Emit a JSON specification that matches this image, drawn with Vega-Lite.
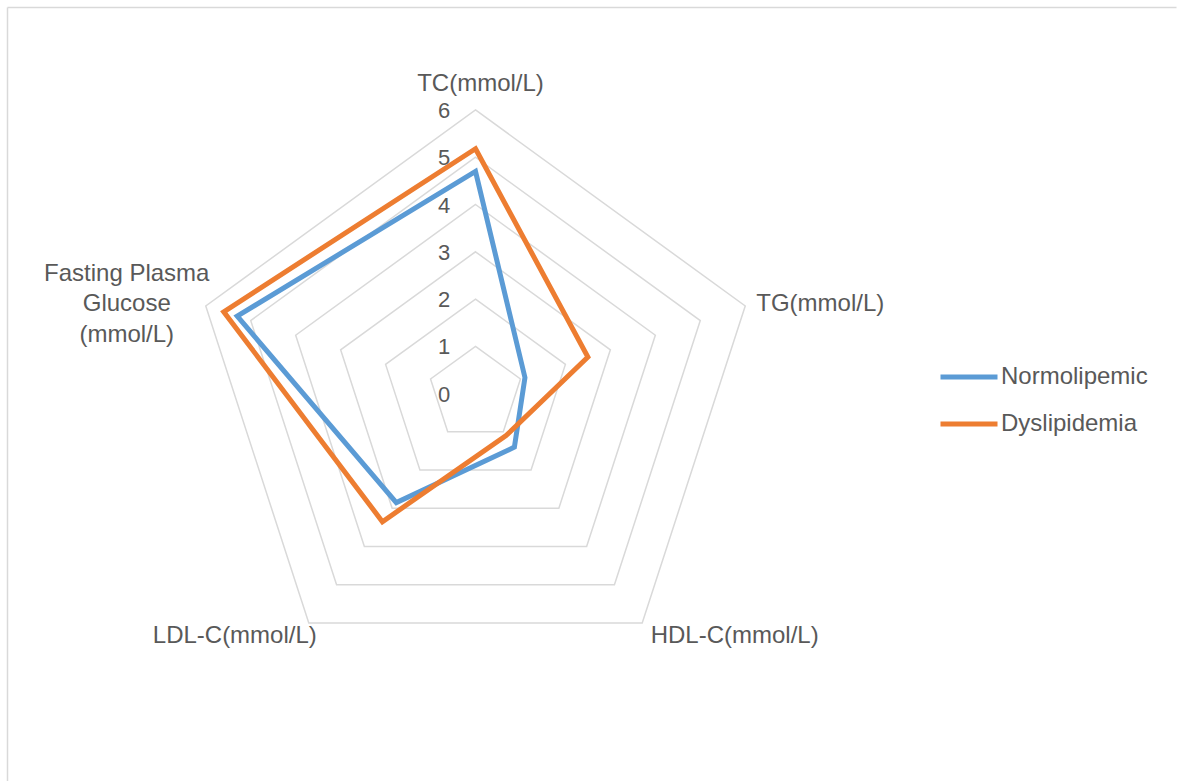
{
  "$schema": "https://vega.github.io/schema/vega-lite/v6.json",
  "width": 1169,
  "height": 774,
  "autosize": {"type": "none"},
  "padding": {"left": 7, "top": 7, "right": 2, "bottom": 0},
  "background": "white",
  "view": {"stroke": "transparent"},
  "config": {"view": {"stroke": "transparent"}, "font": "Liberation Sans"},
  "datasets": {
    "series": [
      {"series": "Normolipemic", "param": "TC(mmol/L)", "idx": 0, "value": 4.7},
      {"series": "Normolipemic", "param": "TG(mmol/L)", "idx": 1, "value": 1.1},
      {"series": "Normolipemic", "param": "HDL-C(mmol/L)", "idx": 2, "value": 1.4},
      {"series": "Normolipemic", "param": "LDL-C(mmol/L)", "idx": 3, "value": 2.85},
      {"series": "Normolipemic", "param": "Fasting Plasma Glucose (mmol/L)", "idx": 4, "value": 5.3},
      {"series": "Dyslipidemia", "param": "TC(mmol/L)", "idx": 0, "value": 5.18},
      {"series": "Dyslipidemia", "param": "TG(mmol/L)", "idx": 1, "value": 2.5},
      {"series": "Dyslipidemia", "param": "HDL-C(mmol/L)", "idx": 2, "value": 1.1},
      {"series": "Dyslipidemia", "param": "LDL-C(mmol/L)", "idx": 3, "value": 3.35},
      {"series": "Dyslipidemia", "param": "Fasting Plasma Glucose (mmol/L)", "idx": 4, "value": 5.6}
    ],
    "grid": [
      {"level": 1, "idx": [0, 1, 2, 3, 4]},
      {"level": 2, "idx": [0, 1, 2, 3, 4]},
      {"level": 3, "idx": [0, 1, 2, 3, 4]},
      {"level": 4, "idx": [0, 1, 2, 3, 4]},
      {"level": 5, "idx": [0, 1, 2, 3, 4]},
      {"level": 6, "idx": [0, 1, 2, 3, 4]}
    ],
    "ticks": [
      {"t": 0}, {"t": 1}, {"t": 2}, {"t": 3}, {"t": 4}, {"t": 5}, {"t": 6}
    ],
    "cats": [
      {"param": "TC(mmol/L)", "label": "TC(mmol/L)", "idx": 0, "r": 6},
      {"param": "TG(mmol/L)", "label": "TG(mmol/L)", "idx": 1, "r": 6},
      {"param": "HDL-C(mmol/L)", "label": "HDL-C(mmol/L)", "idx": 2, "r": 6},
      {"param": "LDL-C(mmol/L)", "label": "LDL-C(mmol/L)", "idx": 3, "r": 6},
      {"param": "Fasting Plasma Glucose (mmol/L)", "label": "Fasting Plasma\nGlucose\n(mmol/L)", "idx": 4, "r": 6}
    ]
  },
  "encoding": {
    "x": {
      "field": "px", "type": "quantitative",
      "scale": {"domain": [-9.9112, 14.8192], "nice": false, "zero": false},
      "axis": {"orient": "top", "labels": false, "ticks": false, "grid": false, "title": null, "domainColor": "#d9d9d9", "domainWidth": 1.5}
    },
    "y": {
      "field": "py", "type": "quantitative",
      "scale": {"domain": [-8.1955, 8.1785], "nice": false, "zero": false},
      "axis": {"orient": "left", "labels": false, "ticks": false, "grid": false, "title": null, "domainColor": "#d9d9d9", "domainWidth": 1.5}
    }
  },
  "layer": [
    {
      "data": {"name": "grid"},
      "transform": [
        {"flatten": ["idx"]},
        {"calculate": "datum.level*cos(PI/2 - datum.idx*2*PI/5)", "as": "px"},
        {"calculate": "datum.level*sin(PI/2 - datum.idx*2*PI/5)", "as": "py"}
      ],
      "mark": {"type": "line", "interpolate": "linear-closed", "color": "#d9d9d9", "strokeWidth": 1.5},
      "encoding": {"detail": {"field": "level", "type": "nominal"}, "order": {"field": "idx", "type": "quantitative"}}
    },
    {
      "data": {"name": "ticks"},
      "transform": [
        {"calculate": "0", "as": "px"},
        {"calculate": "datum.t", "as": "py"}
      ],
      "mark": {"type": "text", "align": "center", "baseline": "middle", "dx": -31.5, "dy": 1, "fontSize": 22, "color": "#595959", "font": "Liberation Sans"},
      "encoding": {"text": {"field": "t", "type": "quantitative"}}
    },
    {
      "data": {"name": "series"},
      "transform": [
        {"filter": "datum.series === 'Normolipemic'"},
        {"calculate": "datum.value*cos(PI/2 - datum.idx*2*PI/5)", "as": "px"},
        {"calculate": "datum.value*sin(PI/2 - datum.idx*2*PI/5)", "as": "py"}
      ],
      "mark": {"type": "line", "interpolate": "linear-closed", "strokeWidth": 5, "strokeJoin": "miter"},
      "encoding": {
        "order": {"field": "idx", "type": "quantitative"},
        "color": {
          "field": "series", "type": "nominal",
          "scale": {"domain": ["Normolipemic", "Dyslipidemia"], "range": ["#5B9BD5", "#ED7D31"]},
          "legend": {
            "orient": "none", "legendX": 931, "legendY": 339, "title": null,
            "symbolType": "stroke", "symbolSize": 3249, "symbolStrokeWidth": 5,
            "labelFontSize": 24, "labelColor": "#595959", "labelFont": "Liberation Sans",
            "labelOffset": 1, "rowPadding": 4, "padding": 0
          }
        }
      }
    },
    {
      "data": {"name": "series"},
      "transform": [
        {"filter": "datum.series === 'Dyslipidemia'"},
        {"calculate": "datum.value*cos(PI/2 - datum.idx*2*PI/5)", "as": "px"},
        {"calculate": "datum.value*sin(PI/2 - datum.idx*2*PI/5)", "as": "py"}
      ],
      "mark": {"type": "line", "interpolate": "linear-closed", "strokeWidth": 5, "strokeJoin": "miter"},
      "encoding": {
        "order": {"field": "idx", "type": "quantitative"},
        "color": {"field": "series", "type": "nominal"}
      }
    },
    {
      "data": {"name": "cats"},
      "transform": [
        {"filter": "datum.idx === 0"},
        {"calculate": "datum.r*cos(PI/2 - datum.idx*2*PI/5)", "as": "px"},
        {"calculate": "datum.r*sin(PI/2 - datum.idx*2*PI/5)", "as": "py"}
      ],
      "mark": {"type": "text", "align": "center", "baseline": "alphabetic", "dx": 5, "dy": -19, "fontSize": 24, "color": "#595959", "font": "Liberation Sans"},
      "encoding": {"text": {"field": "label", "type": "nominal"}}
    },
    {
      "data": {"name": "cats"},
      "transform": [
        {"filter": "datum.idx === 1"},
        {"calculate": "datum.r*cos(PI/2 - datum.idx*2*PI/5)", "as": "px"},
        {"calculate": "datum.r*sin(PI/2 - datum.idx*2*PI/5)", "as": "py"}
      ],
      "mark": {"type": "text", "align": "left", "baseline": "alphabetic", "dx": 11, "dy": 5, "fontSize": 24, "color": "#595959", "font": "Liberation Sans"},
      "encoding": {"text": {"field": "label", "type": "nominal"}}
    },
    {
      "data": {"name": "cats"},
      "transform": [
        {"filter": "datum.idx === 2"},
        {"calculate": "datum.r*cos(PI/2 - datum.idx*2*PI/5)", "as": "px"},
        {"calculate": "datum.r*sin(PI/2 - datum.idx*2*PI/5)", "as": "py"}
      ],
      "mark": {"type": "text", "align": "left", "baseline": "alphabetic", "dx": 8.5, "dy": 20, "fontSize": 24, "color": "#595959", "font": "Liberation Sans"},
      "encoding": {"text": {"field": "label", "type": "nominal"}}
    },
    {
      "data": {"name": "cats"},
      "transform": [
        {"filter": "datum.idx === 3"},
        {"calculate": "datum.r*cos(PI/2 - datum.idx*2*PI/5)", "as": "px"},
        {"calculate": "datum.r*sin(PI/2 - datum.idx*2*PI/5)", "as": "py"}
      ],
      "mark": {"type": "text", "align": "right", "baseline": "alphabetic", "dx": 8, "dy": 20, "fontSize": 24, "color": "#595959", "font": "Liberation Sans"},
      "encoding": {"text": {"field": "label", "type": "nominal"}}
    },
    {
      "data": {"name": "cats"},
      "transform": [
        {"filter": "datum.idx === 4"},
        {"calculate": "datum.r*cos(PI/2 - datum.idx*2*PI/5)", "as": "px"},
        {"calculate": "datum.r*sin(PI/2 - datum.idx*2*PI/5)", "as": "py"}
      ],
      "mark": {"type": "text", "align": "center", "baseline": "alphabetic", "dx": -79, "dy": -25, "lineBreak": "\n", "lineHeight": 30.5, "fontSize": 24, "color": "#595959", "font": "Liberation Sans"},
      "encoding": {"text": {"field": "label", "type": "nominal"}}
    }
  ]
}
